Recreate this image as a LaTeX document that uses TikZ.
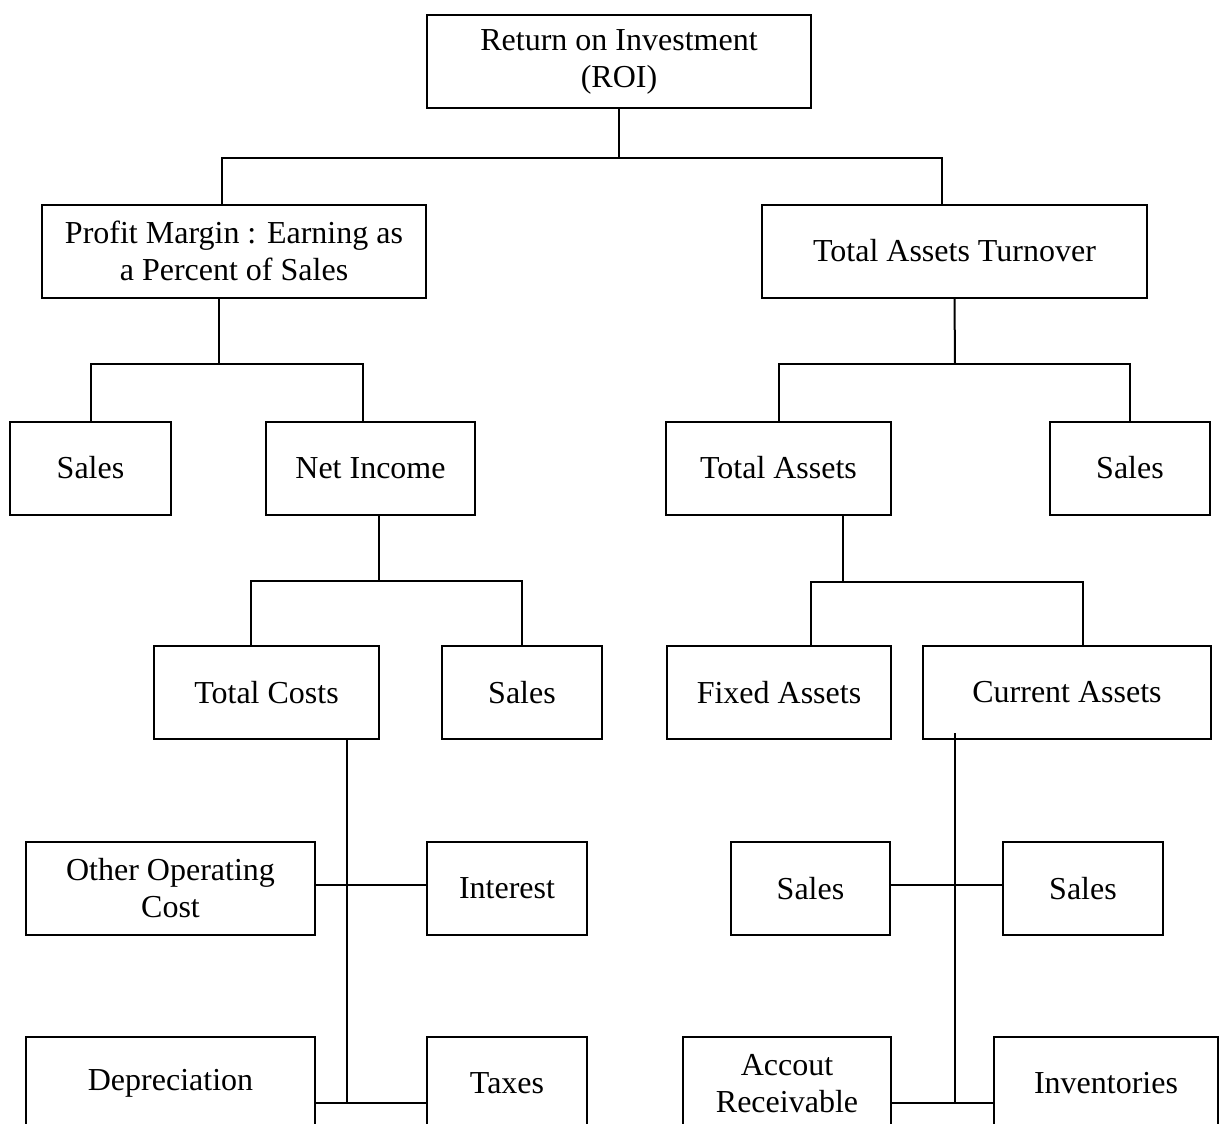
\documentclass[tikz,border=0pt]{standalone}
\usepackage{fontspec}
\setmainfont{Liberation Serif}
\usepackage{tikz}
\usetikzlibrary{calc}

\begin{document}
\begin{tikzpicture}[x=0.5pt, y=-0.5pt, line width=1pt,
box/.style={draw, align=center, minimum height=46.5pt, inner sep=2pt,
  font=\fontsize{16}{18.5}\selectfont}
]
\useasboundingbox (0,0) rectangle (1221,1124);
\clip (0,0) rectangle (1221,1124);

% top levels
\node[box, minimum width=192pt] (roi) at (619,61.5) {Return on Investment\\(ROI)};
\node[box, minimum width=192pt] (pm) at (234,251) {Profit Margin : Earning as\\a Percent of Sales};
\node[box, minimum width=192.5pt] (tat) at (954.5,251) {Total Assets Turnover};

\node[box, minimum width=80.5pt] (salesA) at (90.5,468) {Sales};
\node[box, minimum width=104.5pt] (ni) at (370.5,468) {Net Income};
\node[box, minimum width=112.5pt] (ta) at (778.5,468) {Total Assets};
\node[box, minimum width=80pt] (salesB) at (1130,468) {Sales};

\node[box, minimum width=112.5pt] (tc) at (266.5,692.5) {Total Costs};
\node[box, minimum width=80pt] (salesC) at (522,692.5) {Sales};
\node[box, minimum width=112pt] (fa) at (779,692.5) {Fixed Assets};
\node[box, minimum width=144pt] (ca) at (1067,692.5) {Current Assets};

% bottom levels
\node[box, minimum width=144.5pt] (ooc) at (170.5,888.5) {Other Operating\\Cost};
\node[box, minimum width=80pt] (int) at (507,888.5) {Interest};
\node[box, minimum width=79.5pt] (salesD) at (810.5,888.5) {Sales};
\node[box, minimum width=80pt] (salesE) at (1083,888.5) {Sales};

\node[box, minimum width=144.5pt] (dep) at (170.5,1083.5) {Depreciation};
\node[box, minimum width=80pt] (tax) at (507,1083.5) {Taxes};
\node[box, minimum width=104pt] (ar) at (787,1083.5) {Accout\\Receivable};
\node[box, minimum width=112pt] (inv) at (1106,1083.5) {Inventories};

% connectors
\coordinate (roiB) at (619,158);
\coordinate (pmJ) at (222,158);
\coordinate (tatJ) at (942,158);
\draw (roi.south) -- (roiB);
\draw (pmJ |- pm.north) -- (pmJ) -- (tatJ) -- (tatJ |- tat.north);

\coordinate (pmB) at (219,364);
\coordinate (pmL) at (91,364);
\coordinate (pmR) at (363,364);
\draw (pmB |- pm.south) -- (pmB);
\draw (pmL |- salesA.north) -- (pmL) -- (pmR) -- (pmR |- ni.north);

\coordinate (tatB) at (955,364);
\draw (tat.south) -- (tatB);
\draw (ta.north) -- (ta.north |- tatB) -- (salesB.north |- tatB) -- (salesB.north);

\coordinate (niB) at (379,581);
\coordinate (niL) at (251,581);
\draw (niB |- ni.south) -- (niB);
\draw (niL |- tc.north) -- (niL) -- (salesC.north |- niL) -- (salesC.north);

\coordinate (taB) at (843,582);
\coordinate (taL) at (811,582);
\coordinate (taR) at (1083,582);
\draw (taB |- ta.south) -- (taB);
\draw (taL |- fa.north) -- (taL) -- (taR) -- (taR |- ca.north);

\coordinate (tcM) at (347,885);
\coordinate (tcB) at (347,1103);
\draw (tcB |- tc.south) -- (tcB);
\draw (ooc.east |- tcM) -- (int.west |- tcM);
\draw (dep.east |- tcB) -- (tax.west |- tcB);

\coordinate (caT) at (955,733);
\coordinate (caM) at (955,885);
\coordinate (caB) at (955,1103);
\draw (caT) -- (caB);
\draw (salesD.east |- caM) -- (salesE.west |- caM);
\draw (ar.east |- caB) -- (inv.west |- caB);
\end{tikzpicture}
\end{document}
